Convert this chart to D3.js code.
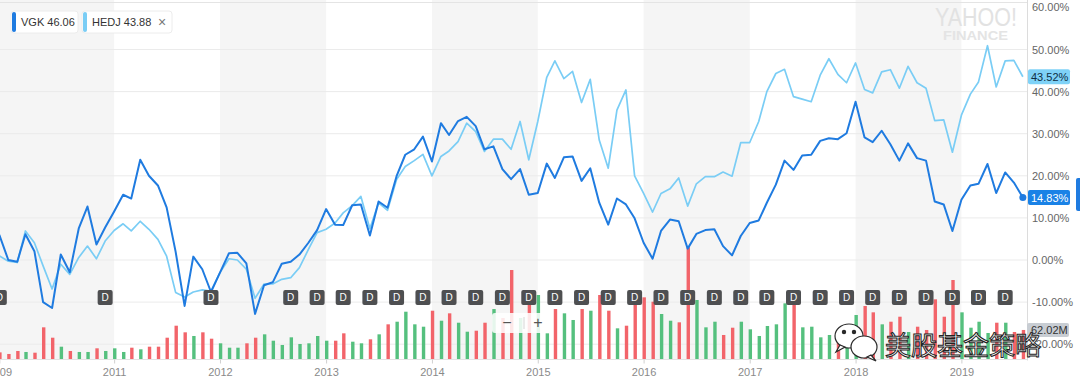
<!DOCTYPE html>
<html>
<head>
<meta charset="utf-8">
<script src="https://cdn.jsdelivr.net/npm/d3@7"></script>
<style>
    body { margin: 0; background: #fff; }
    svg { display: block; font-family: "Helvetica Neue", Arial, "Liberation Sans", sans-serif; }
</style>
</head>
<body>
<div id="chart"></div>
<script>
// monthly closes, Dec 2009 .. Aug 2019, % change
const vgk = [6, 0, -0.4, 6.1, 2.1, -10, -11.4, 1.3, -2.9, 7.5, 12.7, 3.7, 7.7,
    11.5, 15.5, 14.6, 23.8, 20, 17.7, 12.5, 2, -10.9, 0.8, -2.2, -7.6,
    -3, 1.6, 1.7, -0.8, -12.8, -6, -5.3, -0.9, -0.4, 1.3, 4.1, 7.1,
    12.1, 8.4, 8.3, 13, 13.2, 5.8, 13.9, 12.4, 19.9, 25, 26.3, 29.3,
    23.4, 32.5, 29.7, 33, 34, 31.8, 26.3, 27, 21.6, 19.2, 21.6, 15.5,
    15.9, 22.9, 19.5, 24.4, 24.6, 18.8, 21.8, 13.6, 8.4, 14.6, 13.2, 9.9,
    4.1, 0.3, 6.9, 9.6, 9.2, 2.7, 6.2, 7.1, 7.3, 3.3, 1.1, 5.7,
    8.8, 9.4, 13.6, 17.9, 23.6, 21.4, 24.8, 25, 28.3, 28.9, 28.7, 30.1,
    37.6, 29.1, 28, 30.7, 27.5, 23.6, 27.7, 24.2, 23.6, 13.9, 13.2, 6.9,
    14.3, 17.7, 18.1, 22.8, 15.9, 20.8, 18.4, 14.83];

const hedj = [1, -0.3, -0.6, 6.9, 4.1, -1.4, -6.9, -1, -3.4, 0.6, 3.3, 0.3, 4.5,
    7, 8.6, 6.9, 9.2, 7.3, 4.9, 0.9, -7.7, -8.8, -7.6, -7.1, -7.4,
    -3, 0.3, 0, -2.2, -9.1, -5.7, -5.7, -4.6, -4.2, -1.8, 2.5, 6.5,
    7.3, 8.8, 11.2, 12.9, 15.1, 7.4, 13.6, 11.8, 19.1, 22.2, 23.6, 25.1,
    20, 24.6, 25.9, 28.1, 32.5, 30.5, 25.8, 28.7, 28.7, 26.3, 32.9, 23.8,
    32.9, 43.4, 47.3, 43.1, 44.8, 37.4, 42.9, 28.5, 21.8, 35.6, 40.4, 20,
    15.8, 11.4, 15.8, 16.9, 19.5, 12.8, 18.1, 19.8, 19.8, 20.9, 19.9, 27.9,
    27.9, 32.9, 40, 44.3, 45.3, 38.8, 38.2, 37.6, 43.9, 47.8, 44.1, 42.1,
    46.8, 40.5, 39.7, 44.7, 45.2, 40.8, 46, 42.1, 40.8, 33.1, 33.3, 25.6,
    34.4, 39.4, 42.3, 50.9, 41.1, 47.3, 47.4, 43.52];

// VGK volume, millions
const volume = [15, 11.6, 17.9, 15.8, 14.3, 67.6, 45.8, 26.9, 17.9, 15.8, 15.8, 23.5, 17.9,
    23.5, 15.8, 24.8, 21.4, 26.9, 26.9, 45.8, 71, 57.1, 49.4, 57.1, 43.7,
    34, 24.8, 24.8, 34, 45.8, 52.9, 39.5, 30.5, 46.6, 32.6, 34, 49.4,
    39.5, 39.5, 55, 37.4, 34, 42.4, 52.9, 73.9, 79.4, 100.4, 73.9, 68.9,
    102.5, 81.5, 97, 77.3, 58.4, 60.5, 77.3, 106, 87.2, 188, 87.2, 114.5,
    135.5, 55, 106, 97, 83, 106, 102.5, 135.5, 102.5, 65.5, 71, 118,
    130.6, 121.4, 95.6, 81.5, 78.1, 236, 125, 67.6, 79.4, 51.5, 66.8, 79.4,
    63.4, 49.4, 70.4, 73.9, 118, 116.6, 67.6, 68.9, 46.6, 51.5, 41, 41,
    93.5, 112.4, 99.1, 73.9, 79.4, 89.9, 57.8, 68.9, 62, 126.4, 89.9, 167,
    99.1, 66.8, 79.4, 55.7, 77.3, 77.3, 57.8, 62.02];

const dividends = ["2009-12", "2010-12", "2011-12", "2012-09", "2012-12",
    "2013-03", "2013-06", "2013-09", "2013-12", "2014-03", "2014-06", "2014-09", "2014-12",
    "2015-03", "2015-06", "2015-09", "2015-12", "2016-03", "2016-06", "2016-09", "2016-12",
    "2017-03", "2017-06", "2017-09", "2017-12", "2018-03", "2018-06", "2018-09", "2018-12",
    "2019-03", "2019-06"];

const yearTicks = ["2009-12-01", "2011-01-01", "2012-01-01", "2013-01-01", "2014-01-01",
    "2015-01-01", "2016-01-01", "2017-01-01", "2018-01-01", "2019-01-01"];
const pctTicks = [-20, -10, 0, 10, 20, 30, 40, 50, 60];

const legendItems = [
    { name: "VGK", value: "46.06", color: "#1f7be0" },
    { name: "HEDJ", value: "43.88", color: "#7acdf5" }
];

const W = 1080, H = 391;
const right = 1027;   // right edge of plot
const baseY = 359.5;  // volume baseline

const parseDay = d3.timeParse("%Y-%m-%d");
const parseMonth = d3.timeParse("%Y-%m");
const months = d3.timeMonth.range(new Date(2009, 11, 1), new Date(2019, 7, 2));

const xScale = d3.scaleTime()
    .domain([new Date(2010, 0, 1), new Date(2019, 0, 1)])
    .range([8.3, 961.4]);
const yScale = d3.scaleLinear().domain([-20, 60]).range([344.2, 7.4]);
const vScale = d3.scaleLinear().domain([0, 200]).range([baseY, baseY - 95.2]);

const svg = d3.select("#chart").append("svg")
    .attr("width", W)
    .attr("height", H);

svg.append("clipPath").attr("id", "plot")
    .append("rect").attr("x", 0).attr("y", 0).attr("width", right).attr("height", baseY);

// alternating year bands
const tickDates = yearTicks.map(parseDay);
const bands = [];
for (let i = 0; i + 1 < tickDates.length; i += 2) bands.push([tickDates[i], tickDates[i + 1]]);
svg.append("g").attr("clip-path", "url(#plot)")
    .selectAll("rect").data(bands).join("rect")
    .attr("x", d => Math.max(0, xScale(d[0])))
    .attr("y", 0)
    .attr("width", d => xScale(d[1]) - Math.max(0, xScale(d[0])))
    .attr("height", baseY)
    .attr("fill", "#f5f5f5");

// yahoo watermark
svg.append("text").attr("x", 935).attr("y", 26)
    .attr("textLength", 82).attr("lengthAdjust", "spacingAndGlyphs")
    .style("font-size", "25px").style("fill", "#e2e2e2")
    .text("YAHOO!");
svg.append("text").attr("x", 943).attr("y", 40)
    .attr("textLength", 65).attr("lengthAdjust", "spacingAndGlyphs")
    .style("font-size", "12px").style("font-weight", "bold").style("fill", "#e4e4e4")
    .text("FINANCE");

// top border + gridlines
svg.append("line").attr("x1", 0).attr("x2", right).attr("y1", 2.5).attr("y2", 2.5)
    .attr("stroke", "#e4e4e4");
svg.append("g").selectAll("line").data(pctTicks.filter(d => d < 60)).join("line")
    .attr("x1", 0).attr("x2", right)
    .attr("y1", d => yScale(d)).attr("y2", d => yScale(d))
    .attr("stroke", "#ebebeb");

// volume
svg.append("g").attr("clip-path", "url(#plot)")
    .selectAll("rect").data(volume).join("rect")
    .attr("x", (d, i) => xScale(months[i]) + 0.6 - 1.7)
    .attr("y", d => vScale(d))
    .attr("width", 3.4)
    .attr("height", d => baseY - vScale(d))
    .attr("fill", (d, i) => (i > 0 && vgk[i] >= vgk[i - 1]) ? "#55c07e" : "#f2646a");

// lines
const line = d3.line()
    .x((d, i) => xScale(months[i]))
    .y(d => yScale(d));
const lines = svg.append("g").attr("clip-path", "url(#plot)");
lines.append("path").datum(hedj)
    .attr("d", line).attr("fill", "none")
    .attr("stroke", legendItems[1].color).attr("stroke-width", 1.7)
    .attr("stroke-linejoin", "round");
lines.append("path").datum(vgk)
    .attr("d", line).attr("fill", "none")
    .attr("stroke", legendItems[0].color).attr("stroke-width", 2)
    .attr("stroke-linejoin", "round");

// dividend markers
const divs = svg.append("g").selectAll("g").data(dividends.map(parseMonth)).join("g")
    .attr("transform", d => "translate(" + xScale(d) + ",297.5)");
divs.append("rect").attr("x", -7.5).attr("y", -7.5).attr("width", 15).attr("height", 15)
    .attr("rx", 2).attr("fill", "#4e4f51");
divs.append("text").attr("text-anchor", "middle").attr("dy", "0.36em")
    .style("font-size", "10px").style("fill", "#fff").text("D");

// baseline + x axis
svg.append("line").attr("x1", 0).attr("x2", right).attr("y1", baseY).attr("y2", baseY)
    .attr("stroke", "#e2e2e2");
const xAxis = d3.axisBottom(xScale)
    .tickValues(tickDates)
    .tickSize(4)
    .tickPadding(5)
    .tickFormat(d3.timeFormat("%Y"));
const gx = svg.append("g").attr("transform", "translate(0," + baseY + ")").call(xAxis);
gx.select(".domain").remove();
gx.selectAll("line").attr("stroke", "#d0d0d0");
gx.selectAll("text").style("font-size", "11px").style("fill", "#8a8a8a").style("font-family", null);

// right axis
svg.append("line").attr("x1", right + 0.5).attr("x2", right + 0.5).attr("y1", 0).attr("y2", baseY + 1)
    .attr("stroke", "#dcdcdc");
const yAxis = d3.axisRight(yScale)
    .tickValues(pctTicks)
    .tickSize(0)
    .tickPadding(5)
    .tickFormat(d => d.toFixed(2) + "%");
const gy = svg.append("g").attr("transform", "translate(" + right + ",0)").call(yAxis);
gy.select(".domain").remove();
gy.selectAll("text").style("font-size", "11px").style("fill", "#666").style("font-family", null);

// last value tags
const lastI = months.length - 1;
svg.append("circle").attr("cx", xScale(months[lastI])).attr("cy", yScale(vgk[lastI]))
    .attr("r", 3.5).attr("fill", legendItems[0].color);
const tags = [
    { v: hedj[lastI], fill: "#7fd2f7", text: "#0e2f45" },
    { v: vgk[lastI], fill: "#1a82e6", text: "#fff" }
];
const tg = svg.append("g").selectAll("g").data(tags).join("g")
    .attr("transform", d => "translate(" + (right + 1) + "," + yScale(d.v) + ")");
tg.append("rect").attr("x", 0).attr("y", -7.5).attr("width", 42).attr("height", 15).attr("rx", 2)
    .attr("fill", d => d.fill);
tg.append("text").attr("x", 3).attr("dy", "0.36em").style("font-size", "11px")
    .style("fill", d => d.text).text(d => d.v.toFixed(2) + "%");
svg.append("rect").attr("x", 1076).attr("y", 178).attr("width", 6).attr("height", 33).attr("rx", 2)
    .attr("fill", legendItems[0].color);

// volume tag
const vt = svg.append("g").attr("transform", "translate(" + right + "," + vScale(volume[lastI]) + ")");
vt.append("rect").attr("x", 0).attr("y", -7).attr("width", 42).attr("height", 14).attr("rx", 2)
    .attr("fill", "#c8cdd3");
vt.append("text").attr("x", 4).attr("dy", "0.36em").style("font-size", "11px").style("fill", "#333")
    .text(volume[lastI].toFixed(2) + "M");

// zoom control
const zc = svg.append("g").attr("transform", "translate(492,313)");
zc.append("rect").attr("width", 60).attr("height", 20).attr("rx", 3)
    .attr("fill", "#fff").attr("fill-opacity", 0.85);
zc.append("line").attr("x1", 32).attr("x2", 32).attr("y1", 4).attr("y2", 16).attr("stroke", "#d6d6d6");
zc.append("text").attr("x", 15).attr("y", 15).attr("text-anchor", "middle")
    .style("font-size", "16px").style("fill", "#555").text("−");
zc.append("text").attr("x", 46).attr("y", 15).attr("text-anchor", "middle")
    .style("font-size", "16px").style("fill", "#555").text("+");

// legend chips
const chipX = [11, 82], chipW = [67, 90];
const chips = svg.append("g").selectAll("g").data(legendItems).join("g")
    .attr("transform", (d, i) => "translate(" + chipX[i] + ",11)");
chips.append("rect").attr("width", (d, i) => chipW[i]).attr("height", 22).attr("rx", 3)
    .attr("fill", "#fff").attr("stroke", "#ececec");
chips.append("rect").attr("x", 1).attr("y", 1).attr("width", 4).attr("height", 20).attr("rx", 2)
    .attr("fill", d => d.color);
chips.append("text").attr("x", 10).attr("y", 11).attr("dy", "0.36em")
    .style("font-size", "11px").style("fill", "#333")
    .text(d => d.name + " " + d.value);
svg.append("text").attr("x", 162).attr("y", 22).attr("dy", "0.36em").attr("text-anchor", "middle")
    .style("font-size", "14px").style("fill", "#777").text("×");

// wechat watermark
const wm = svg.append("g").attr("stroke", "#2a2a2a").attr("stroke-width", 1.2).attr("fill", "#fff");
wm.append("ellipse").attr("cx", 849).attr("cy", 336).attr("rx", 14).attr("ry", 12);
wm.append("path").attr("d", "M840,345 L836,352 L845,347 Z");
wm.append("ellipse").attr("cx", 864).attr("cy", 347).attr("rx", 13).attr("ry", 11);
wm.append("path").attr("d", "M871,355 L876,361 L867,357 Z");
wm.append("circle").attr("cx", 844).attr("cy", 332).attr("r", 1.6).attr("fill", "#2a2a2a");
wm.append("circle").attr("cx", 854).attr("cy", 332).attr("r", 1.6).attr("fill", "#2a2a2a");
svg.append("text").attr("x", 885).attr("y", 355)
    .style("font-family", "'Noto Sans CJK SC', sans-serif")
    .style("font-size", "26px").style("fill", "#fff")
    .attr("stroke", "#222").attr("stroke-width", 1)
    .text("美股基金策略");
</script>
</body>
</html>
